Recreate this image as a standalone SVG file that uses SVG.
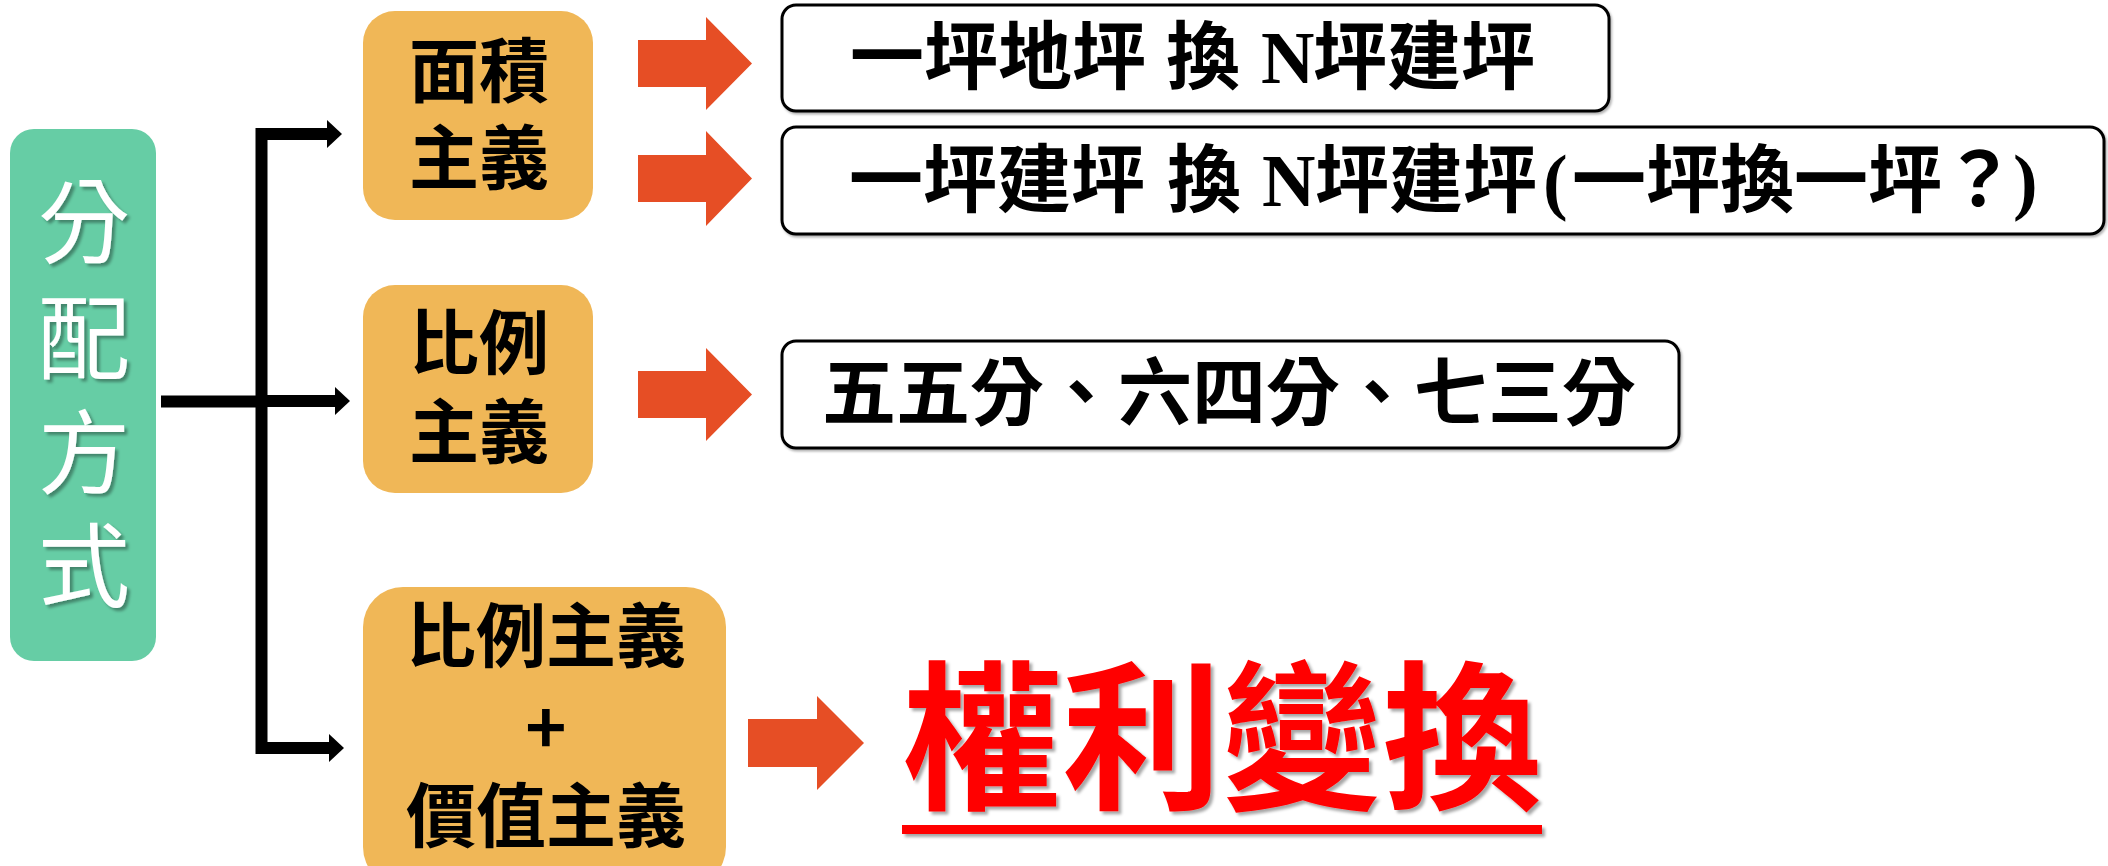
<svg xmlns="http://www.w3.org/2000/svg" width="2108" height="866" viewBox="0 0 2108 866">
<defs>
<style>
.bg{fill:#ffffff}
.green{fill:#66CDA5}
.orange{fill:#F0B757}
.tbox{fill:#ffffff;stroke:#000000;stroke-width:3}
.red-arrow{fill:#E64E25}
.line{stroke:#000000;stroke-width:12;fill:none}
.gtext{font-family:"Noto Sans CJK TC",sans-serif;font-size:92px;fill:#ffffff;text-anchor:middle}
.otext{font-family:"Noto Sans CJK TC",sans-serif;font-size:70px;font-weight:700;fill:#000000;text-anchor:middle}
.btext{font-family:"Noto Sans CJK TC",sans-serif;font-size:74px;font-weight:700;fill:#000000}
.serif{font-family:"Liberation Serif",serif;font-weight:700}
.rtext{font-family:"Noto Sans CJK TC",sans-serif;font-size:160px;font-weight:700;fill:#FF0000;text-anchor:middle}
</style>
<filter id="tshadow" x="-10%" y="-10%" width="130%" height="130%">
<feDropShadow dx="3" dy="3" stdDeviation="1.5" flood-color="#000000" flood-opacity="0.35"/>
</filter>
<filter id="bshadow" x="-5%" y="-10%" width="110%" height="130%">
<feDropShadow dx="1.5" dy="2" stdDeviation="1" flood-color="#000000" flood-opacity="0.3"/>
</filter>
<marker id="ah" markerUnits="userSpaceOnUse" markerWidth="15" markerHeight="28" viewBox="0 0 15 28" refX="0" refY="14" orient="auto">
<path d="M0,0 L15,14 L0,28 Z" fill="#000000"/>
</marker>
</defs>
<rect class="bg" x="0" y="0" width="2108" height="866"/>

<g id="connectors">
<path class="line" d="M161,401.5 H261.5"/>
<path class="line" d="M261.5,128 V754"/>
<path class="line" d="M256,134 H327" marker-end="url(#ah)"/>
<path class="line" d="M261.5,401 H335" marker-end="url(#ah)"/>
<path class="line" d="M256,748 H329" marker-end="url(#ah)"/>
<path class="red-arrow" d="M638,40 H706 V17 L752,63.5 L706,110 V87 H638 Z"/>
<path class="red-arrow" d="M638,155 H706 V131 L752,178.5 L706,226 V202 H638 Z"/>
<path class="red-arrow" d="M638,371 H706 V348 L752,394.5 L706,441 V418 H638 Z"/>
<path class="red-arrow" d="M748,719 H817 V696 L864,743 L817,790 V767 H748 Z"/>
</g>

<g id="node-fenpei">
<rect class="green" x="10" y="129" width="146" height="532" rx="24"/>
<text class="gtext" filter="url(#tshadow)" x="84" y="256">分<tspan x="84" dy="116">配</tspan><tspan x="84" dy="115">方</tspan><tspan x="84" dy="113">式</tspan></text>
</g>

<g id="node-mianji">
<rect class="orange" x="363" y="11" width="230" height="209" rx="32"/>
<text class="otext" x="479" y="97">面積<tspan x="479" dy="87">主義</tspan></text>
</g>

<g id="node-bili">
<rect class="orange" x="363" y="285" width="230" height="208" rx="32"/>
<text class="otext" x="479" y="369">比例<tspan x="479" dy="89">主義</tspan></text>
</g>

<g id="node-bili-jiazhi">
<rect class="orange" x="363" y="587" width="363" height="300" rx="40"/>
<text class="otext" x="546" y="662">比例主義<tspan x="546" dy="92">+</tspan><tspan x="546" dy="88">價值主義</tspan></text>
</g>

<g id="node-box1">
<rect class="tbox" x="782" y="5" width="827" height="106" rx="14" filter="url(#bshadow)"/>
<text class="btext" y="83"><tspan x="850">一坪地坪</tspan><tspan x="1166">換</tspan><tspan class="serif" x="1261">N</tspan><tspan x="1313">坪建坪</tspan></text>
</g>

<g id="node-box2">
<rect class="tbox" x="782" y="127" width="1322" height="107" rx="14" filter="url(#bshadow)"/>
<text class="btext" y="205.5"><tspan x="849">一坪建坪</tspan><tspan x="1167">換</tspan><tspan class="serif" x="1262">N</tspan><tspan x="1315">坪建坪</tspan><tspan class="serif" x="1543">(</tspan><tspan x="1572">一坪換一坪？</tspan><tspan class="serif" x="2013">)</tspan></text>
</g>

<g id="node-box3">
<rect class="tbox" x="782" y="341" width="897" height="107" rx="14" filter="url(#bshadow)"/>
<text class="btext" x="822" y="419">五五分、六四分、七三分</text>
</g>

<g id="node-quanli">
<g filter="url(#tshadow)">
<text class="rtext" x="1222" y="797">權利變換</text>
<rect x="902" y="825" width="640" height="9" fill="#FF0000"/>
</g>
</g>
</svg>
